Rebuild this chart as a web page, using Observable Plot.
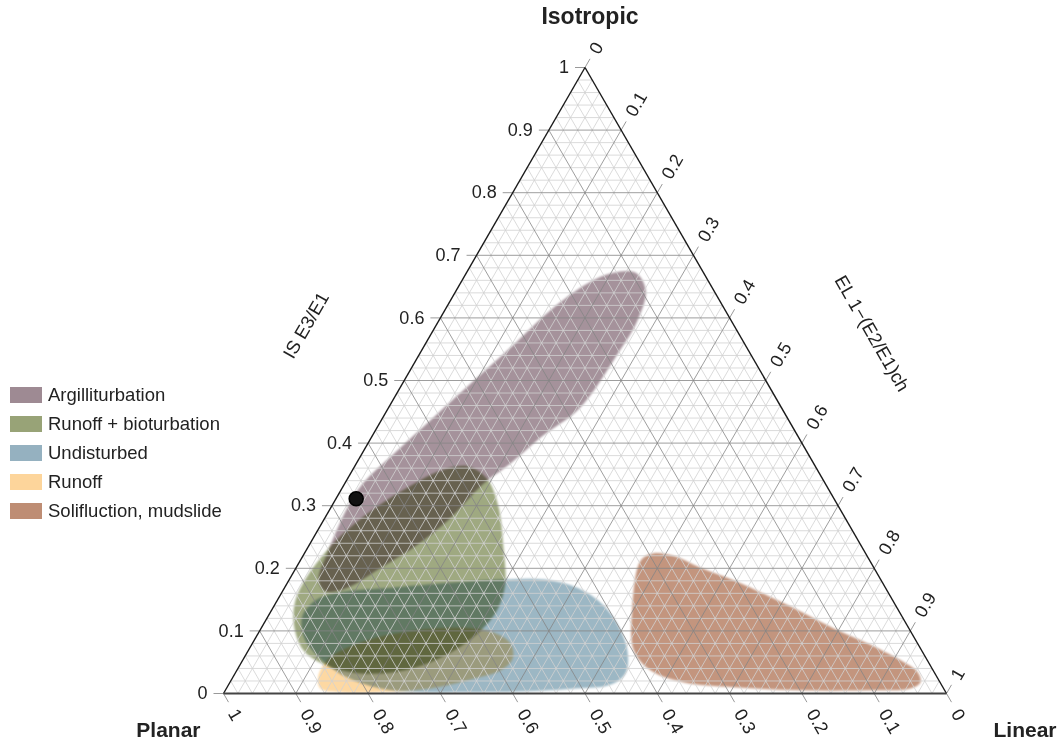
<!DOCTYPE html>
<html><head><meta charset="utf-8">
<script src="https://cdn.jsdelivr.net/npm/d3@7"></script>
<script src="https://cdn.jsdelivr.net/npm/@observablehq/plot@0.6"></script>
<style>
body{margin:0;background:#fff;font-family:"Liberation Sans",Arial,Helvetica,sans-serif;}
#wrap{position:relative;width:1063px;height:744px;overflow:hidden}
#legend{position:absolute;left:10px;top:380px;font-size:18.5px;color:#222}
.item{display:flex;align-items:center;height:29px}
.sw{width:32px;height:16px;margin-right:6px;filter:blur(0.4px)}
</style></head><body><div id="wrap"><div id="chart"></div><div id="legend"></div></div>
<script>
// ---- data (ternary coordinates: [IS, EL]; PL = 1 - IS - EL) ----
const categories = ["Argilliturbation", "Runoff + bioturbation", "Undisturbed", "Runoff", "Solifluction, mudslide"];
const colors = ["#9e8a93", "#98a377", "#95b1c0", "#fdd59b", "#be8d74"];

const argilliturbation = [[0.181,0.041],[0.228,0.031],[0.297,0.023],[0.335,0.025],[0.385,0.045],[0.441,0.070],[0.505,0.099],[0.553,0.121],[0.612,0.146],[0.655,0.176],[0.672,0.203],[0.672,0.234],[0.644,0.262],[0.593,0.275],[0.543,0.274],[0.457,0.265],[0.409,0.234],[0.367,0.213],[0.335,0.192],[0.276,0.172],[0.233,0.146],[0.201,0.117],[0.169,0.087],[0.163,0.060]];
const runoffBioturbation = [[0.363,0.156],[0.343,0.193],[0.300,0.230],[0.236,0.269],[0.173,0.303],[0.129,0.312],[0.093,0.302],[0.061,0.277],[0.037,0.233],[0.032,0.174],[0.045,0.119],[0.069,0.076],[0.109,0.043],[0.149,0.025],[0.184,0.022],[0.216,0.026],[0.251,0.036],[0.291,0.058],[0.327,0.088],[0.356,0.122]];
const undisturbed = [[0.125,0.047],[0.152,0.056],[0.163,0.087],[0.169,0.146],[0.177,0.225],[0.182,0.292],[0.182,0.354],[0.168,0.407],[0.141,0.455],[0.105,0.495],[0.066,0.526],[0.032,0.540],[0.014,0.528],[0.008,0.483],[0.003,0.409],[0.002,0.327],[0.002,0.272],[0.008,0.213],[0.027,0.155],[0.058,0.103],[0.089,0.067]];
const runoff = [[0.029,0.117],[0.058,0.119],[0.085,0.157],[0.097,0.196],[0.105,0.261],[0.099,0.320],[0.080,0.357],[0.056,0.372],[0.037,0.365],[0.022,0.330],[0.008,0.282],[0.002,0.216],[0.002,0.161],[0.008,0.130]];
const solifluction = [[0.224,0.483],[0.212,0.471],[0.137,0.497],[0.069,0.533],[0.037,0.572],[0.018,0.627],[0.010,0.701],[0.005,0.796],[0.005,0.888],[0.008,0.946],[0.018,0.955],[0.034,0.943],[0.053,0.910],[0.080,0.851],[0.104,0.792],[0.144,0.703],[0.181,0.615],[0.201,0.559],[0.220,0.512]];
const blobs = [argilliturbation, runoffBioturbation, undisturbed, runoff, solifluction];

const samplePoint = [[0.311, 0.028]];
const tickValues = [0, 0.1, 0.2, 0.3, 0.4, 0.5, 0.6, 0.7, 0.8, 0.9, 1];
const tickLabels = ["0", "0.1", "0.2", "0.3", "0.4", "0.5", "0.6", "0.7", "0.8", "0.9", "1"];
const minorStep = 0.02;
const vertexLabels = ["Isotropic", "Planar", "Linear"];
const axisTitles = ["IS E3/E1", "EL 1−(E2/E1)ch"];

// ---- ternary -> cartesian (data space) ----
const H = Math.sqrt(3) / 2;
const tx = (is, el) => el + is / 2;
const ty = (is) => is * H;

const blobRows = blobs.flatMap((b, k) => b.map(([is, el], i) => ({k, i, x: tx(is, el), y: ty(is)})));

function seg(t) {
  return [
    {x1: tx(t, 0), y1: ty(t), x2: tx(t, 1 - t), y2: ty(t)},
    {x1: tx(0, t), y1: 0, x2: tx(1 - t, t), y2: ty(1 - t)},
    {x1: tx(0, 1 - t), y1: 0, x2: tx(1 - t, 0), y2: ty(1 - t)}
  ];
}
const minorT = d3.range(1, Math.round(1 / minorStep)).map(i => i * minorStep).filter(t => Math.abs(t * 10 - Math.round(t * 10)) > 1e-6);
const majorT = tickValues.filter(t => t > 0 && t < 1);
const minorSegs = minorT.flatMap(seg);
const majorSegs = majorT.flatMap(seg);

const L = 10 / 723;
const leftTicks = tickValues.map((t, i) => ({x1: tx(t, 0), y1: ty(t), x2: tx(t, 0) - L, y2: ty(t), label: tickLabels[i]}));
const rightTicks = tickValues.map((t, i) => ({x1: tx(1 - t, t), y1: ty(1 - t), x2: tx(1 - t, t) + L * 0.5, y2: ty(1 - t) + L * H, label: tickLabels[i]}));
const bottomTicks = tickValues.map((t, i) => ({x1: tx(0, 1 - t), y1: 0, x2: tx(0, 1 - t) + L * 0.5, y2: -L * H, label: tickLabels[i]}));

const edges = [
  {x1: tx(0, 0), y1: ty(0), x2: tx(1, 0), y2: ty(1)},
  {x1: tx(1, 0), y1: ty(1), x2: tx(0, 1), y2: ty(0)}
];
const bottomEdge = [{x1: tx(0, 0), y1: 0, x2: tx(0, 1), y2: 0}];

const font = "'Liberation Sans', Arial, Helvetica, sans-serif";

const plot = Plot.plot({
  width: 1063, height: 744,
  marginLeft: 223, marginRight: 117, marginTop: 67, marginBottom: 51,
  x: {domain: [0, 1], axis: null},
  y: {domain: [0, H], axis: null},
  style: {fontFamily: font, color: "#222", background: "transparent", overflow: "visible"},
  marks: [
    ...blobs.map((b, k) => Plot.line(blobRows.filter(d => d.k === k), {
      x: "x", y: "y", curve: "catmull-rom-closed", fill: colors[k], stroke: "none",
      fillOpacity: 0.93, imageFilter: "blur(1.3px)", className: "blob"
    })),
    Plot.link(minorSegs, {x1: "x1", y1: "y1", x2: "x2", y2: "y2", stroke: "#d2d2d2", strokeWidth: 0.8}),
    Plot.link(majorSegs, {x1: "x1", y1: "y1", x2: "x2", y2: "y2", stroke: "#858585", strokeWidth: 0.8}),
    Plot.link([...leftTicks, ...rightTicks, ...bottomTicks], {x1: "x1", y1: "y1", x2: "x2", y2: "y2", stroke: "#999", strokeWidth: 1}),
    Plot.link(edges, {x1: "x1", y1: "y1", x2: "x2", y2: "y2", stroke: "#1a1a1a", strokeWidth: 1.4}),
    Plot.link(bottomEdge, {x1: "x1", y1: "y1", x2: "x2", y2: "y2", stroke: "#444", strokeWidth: 2.2}),
    Plot.dot(samplePoint, {x: d => tx(d[0], d[1]), y: d => ty(d[0]), r: 7, fill: "#111", stroke: "#000"}),
    Plot.text(leftTicks, {x: "x1", y: "y1", text: "label", textAnchor: "end", dx: -16, fontSize: 18, fill: "#222"}),
    Plot.text(rightTicks, {x: "x1", y: "y1", text: "label", textAnchor: "start", rotate: -60, dx: 9, dy: -15, fontSize: 18, fill: "#222"}),
    Plot.text(bottomTicks, {x: "x1", y: "y1", text: "label", textAnchor: "start", rotate: 60, dx: 9, dy: 17, fontSize: 18, fill: "#222"}),
    Plot.text([axisTitles[0]], {x: tx(0.5, 0), y: ty(0.5), text: d => d, rotate: -60, dx: -98, dy: -55, fontSize: 18.5, fill: "#222"}),
    Plot.text([axisTitles[1]], {x: tx(0.5, 0.5), y: ty(0.5), text: d => d, rotate: 60, dx: 106, dy: -47, fontSize: 18.5, fill: "#222"}),
    Plot.text([vertexLabels[0]], {x: tx(1, 0), y: ty(1), text: d => d, dx: 5, dy: -51, fontSize: 23, fontWeight: "bold", fill: "#222"}),
    Plot.text([vertexLabels[1]], {x: tx(0, 0), y: 0, text: d => d, textAnchor: "end", dx: -23, dy: 37, fontSize: 21, fontWeight: "bold", fill: "#222"}),
    Plot.text([vertexLabels[2]], {x: tx(0, 1), y: 0, text: d => d, textAnchor: "start", dx: 47, dy: 37, fontSize: 21, fontWeight: "bold", fill: "#222"})
  ]
});
// multiply-blend each blob group as a whole with what lies beneath it
plot.querySelectorAll("g.blob, .blob").forEach(g => { g.style.mixBlendMode = "multiply"; });
document.getElementById("chart").appendChild(plot);

const legend = document.getElementById("legend");
categories.forEach((c, i) => {
  const it = document.createElement("div"); it.className = "item";
  const sw = document.createElement("div"); sw.className = "sw"; sw.style.background = colors[i];
  const t = document.createElement("span"); t.textContent = c;
  it.appendChild(sw); it.appendChild(t); legend.appendChild(it);
});
</script></body></html>
